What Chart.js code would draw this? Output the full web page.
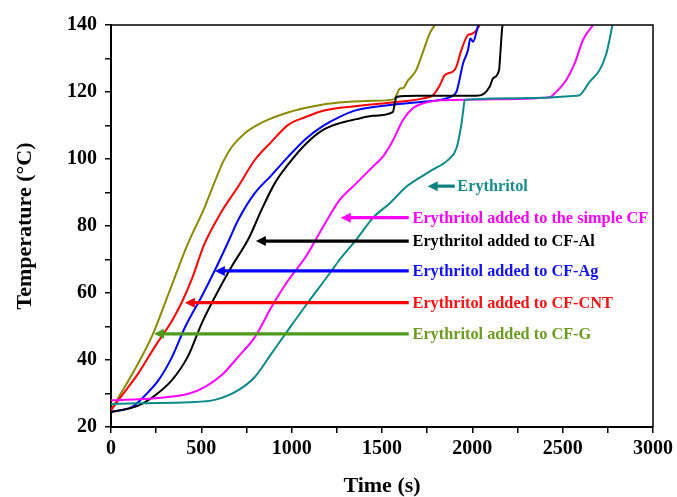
<!DOCTYPE html>
<html>
<head>
<meta charset="utf-8">
<script src="https://cdn.jsdelivr.net/npm/chart.js@4.4.1/dist/chart.umd.min.js"></script>
<style>
    html, body { margin: 0; padding: 0; background: #fff; }
</style>
</head>
<body>
<canvas id="myChart" width="677" height="497"></canvas>
<script>
// Erythritol (pure)
var pureTime = [0, 151, 428, 575, 705, 797, 889, 981, 1073, 1211, 1266, 1359, 1451, 1543, 1636, 1765, 1875, 1912, 1939, 1949, 1958, 2244, 2576, 2595, 2650, 2705, 2742, 2761, 2775];
var pureTemp = [26.8, 27.1, 27.4, 28.1, 31, 35, 42, 49, 55.9, 65.9, 70, 76, 82.5, 86.8, 91.8, 96.3, 100.2, 103.2, 110.2, 114.2, 117.6, 118.1, 118.9, 119.1, 123.1, 126.6, 131.5, 136, 140];

// Erythritol added to the simple CF
var simpleTime = [0, 243, 428, 521, 613, 705, 797, 889, 981, 1078, 1174, 1266, 1359, 1451, 1506, 1562, 1617, 1672, 1728, 1820, 2100, 2428, 2456, 2520, 2567, 2613, 2668];
var simpleTemp = [28, 28.6, 29.9, 32, 35.5, 41, 46.9, 55.9, 63.8, 70.8, 79.8, 87.8, 92.8, 97.8, 100.8, 105.7, 111.7, 115.2, 116.6, 117.5, 117.8, 118.4, 119.6, 123.6, 128.6, 135.6, 140];

// Erythritol added to CF-Al
var alTime = [0, 151, 243, 336, 428, 501, 575, 667, 764, 833, 907, 985, 1078, 1174, 1266, 1359, 1451, 1560, 1571, 1580, 1636, 1765, 2023, 2059, 2096, 2115, 2148, 2155, 2166, 2170];
var alTemp = [24.5, 26.4, 29.4, 33.9, 41.3, 50.8, 58.8, 67.8, 76.5, 84.8, 92.8, 98.7, 104.5, 108.7, 110.7, 111.9, 112.9, 114, 116.7, 118.5, 118.8, 118.9, 118.9, 119.3, 121.6, 124.1, 126.6, 131.5, 139.5, 140];

// Erythritol added to CF-Ag
var agTime = [0, 114, 188, 262, 336, 409, 501, 575, 649, 704, 796, 889, 981, 1082, 1174, 1266, 1359, 1543, 1728, 1820, 1875, 1912, 1949, 1976, 1989, 2004, 2023, 2032];
var agTemp = [24.5, 25.9, 29.4, 33.9, 40.7, 49.7, 58.9, 66.8, 75.3, 81.8, 89.8, 95.2, 100.7, 106.2, 109.9, 112.6, 114.6, 116.1, 117.1, 117.6, 118.5, 120.1, 128.6, 132.5, 136, 135, 138, 140];

// Erythritol added to CF-CNT
var cntTime = [0, 41, 151, 243, 336, 390, 450, 516, 612, 704, 796, 889, 981, 1082, 1174, 1359, 1543, 1728, 1783, 1820, 1847, 1893, 1912, 1939, 1976, 1995, 2023, 2041];
var cntTemp = [25, 28, 36, 44, 51.6, 57, 64.5, 74.5, 84.3, 91.8, 99.7, 105.2, 110.2, 112.6, 114.4, 115.8, 116.8, 118.1, 119.1, 122, 125, 126.1, 127.6, 132.5, 137, 137.3, 138.5, 140];

// Erythritol added to CF-G
var gTime = [0, 60, 130, 230, 320, 420, 520, 575, 621, 667, 741, 852, 962, 1073, 1174, 1300, 1450, 1565, 1580, 1598, 1617, 1644, 1662, 1690, 1727, 1764, 1792];
var gTemp = [25, 30.5, 37, 47.5, 60, 74, 85.8, 93.3, 99.2, 103.5, 107.7, 111.3, 113.6, 115.2, 116.3, 117, 117.4, 117.8, 119, 121, 121.2, 123.5, 124.5, 126.6, 132, 137.5, 140];

// arrow labels (temperature level, arrow head / tail and text start in seconds)
var noteLabels = ['Erythritol', 'Erythritol added to the simple CF', 'Erythritol added to CF-Al',
    'Erythritol added to CF-Ag', 'Erythritol added to CF-CNT', 'Erythritol added to CF-G'];
var noteTemp = [91.9, 82.5, 75.5, 66.6, 57.1, 47.8];
var noteHead = [1753, 1272, 802, 575, 409, 238];
var noteTail = [1903, 1648, 1648, 1648, 1648, 1648];
var noteText = [1917, 1669, 1669, 1669, 1669, 1669];
var noteArrowColors = ['#0f8080', '#ff00ff', '#000000', '#0000ff', '#ff0000', '#4c9a1a'];
var noteTextColors = ['#1a8c8c', '#ff00ff', '#000000', '#1010ff', '#ff1010', '#6b9b1f'];

var serif = '"Liberation Serif", "Times New Roman", serif';

function toPoints(xs, ys) {
    var pts = [];
    for (var i = 0; i < xs.length; i++) {
        pts.push({ x: xs[i], y: ys[i] });
    }
    return pts;
}

function series(xs, ys, color) {
    return {
        data: toPoints(xs, ys),
        borderColor: color,
        borderWidth: 2,
        pointRadius: 0,
        showLine: true,
        cubicInterpolationMode: 'monotone'
    };
}

// frame on top/right plus arrows with text
var extrasPlugin = {
    id: 'extras',
    afterDatasetsDraw: function (chart) {
        var ctx = chart.ctx;
        var area = chart.chartArea;
        var xs = chart.scales.x;
        var ys = chart.scales.y;
        ctx.save();

        ctx.strokeStyle = '#000';
        ctx.lineWidth = 1.5;
        ctx.beginPath();
        ctx.moveTo(area.left, area.top);
        ctx.lineTo(area.right, area.top);
        ctx.lineTo(area.right, area.bottom);
        ctx.stroke();

        for (var i = 0; i < noteLabels.length; i++) {
            var yy = ys.getPixelForValue(noteTemp[i]);
            var head = xs.getPixelForValue(noteHead[i]);
            var tail = xs.getPixelForValue(noteTail[i]);
            ctx.strokeStyle = noteArrowColors[i];
            ctx.fillStyle = noteArrowColors[i];
            ctx.lineWidth = 3.2;
            ctx.beginPath();
            ctx.moveTo(tail, yy);
            ctx.lineTo(head + 6, yy);
            ctx.stroke();
            ctx.beginPath();
            ctx.moveTo(head, yy);
            ctx.lineTo(head + 10, yy - 5);
            ctx.lineTo(head + 10, yy + 5);
            ctx.closePath();
            ctx.fill();

            ctx.fillStyle = noteTextColors[i];
            ctx.font = 'bold 16.3px ' + serif;
            ctx.textBaseline = 'middle';
            ctx.textAlign = 'left';
            ctx.fillText(noteLabels[i], xs.getPixelForValue(noteText[i]), yy + 1);
        }
        ctx.restore();
    }
};

var ctx = document.getElementById('myChart').getContext('2d');
var myChart = new Chart(ctx, {
    type: 'scatter',
    data: {
        datasets: [
            series(pureTime, pureTemp, '#0b8a8a'),
            series(simpleTime, simpleTemp, '#ff00ff'),
            series(alTime, alTemp, '#000000'),
            series(agTime, agTemp, '#0000ff'),
            series(cntTime, cntTemp, '#ff0000'),
            series(gTime, gTemp, '#8a8a00')
        ]
    },
    options: {
        responsive: false,
        animation: false,
        layout: { padding: { top: 25, right: 21, left: 0, bottom: 0 } },
        plugins: {
            legend: { display: false },
            tooltip: { enabled: false }
        },
        scales: {
            x: {
                type: 'linear',
                min: 0,
                max: 3000,
                afterFit: function (scale) { scale.height = 70; },
                ticks: {
                    stepSize: 250,
                    autoSkip: false,
                    maxRotation: 0,
                    padding: 4,
                    color: '#000',
                    font: { family: serif, size: 20, weight: 'bold' },
                    callback: function (v) { return v % 500 === 0 ? v : ''; }
                },
                grid: { drawOnChartArea: false, tickLength: 6, color: '#000', lineWidth: 1.5 },
                border: { color: '#000', width: 2 },
                title: {
                    display: true,
                    text: 'Time (s)',
                    color: '#000',
                    font: { family: serif, size: 22, weight: 'bold', lineHeight: 1 },
                    padding: 0
                }
            },
            y: {
                min: 20,
                max: 140,
                afterFit: function (scale) { scale.width = 111; },
                ticks: {
                    stepSize: 10,
                    autoSkip: false,
                    padding: 8,
                    color: '#000',
                    font: { family: serif, size: 20, weight: 'bold' },
                    callback: function (v) { return v % 20 === 0 ? v : ''; }
                },
                grid: { drawOnChartArea: false, tickLength: 6, color: '#000', lineWidth: 1.5 },
                border: { color: '#000', width: 2 },
                title: {
                    display: true,
                    text: 'Temperature (°C)',
                    color: '#000',
                    font: { family: serif, size: 22, weight: 'bold', lineHeight: 1.2 },
                    padding: { top: 12, bottom: 0 }
                }
            }
        }
    },
    plugins: [extrasPlugin]
});
</script>
</body>
</html>
